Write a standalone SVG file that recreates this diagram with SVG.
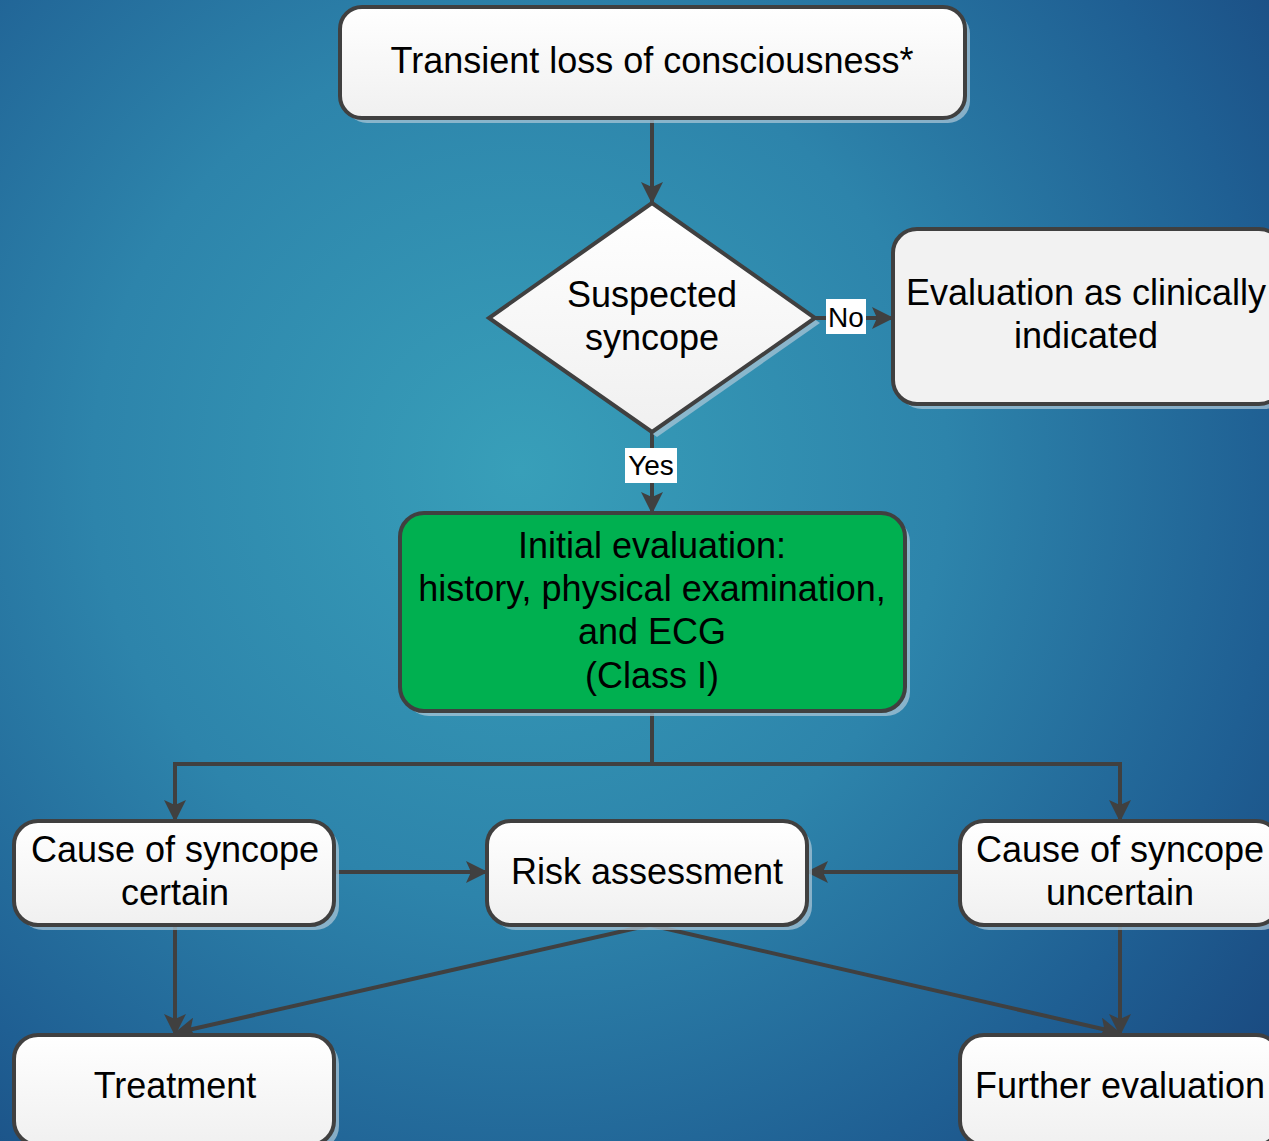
<svg xmlns="http://www.w3.org/2000/svg" width="1269" height="1141" viewBox="0 0 1269 1141">
<defs>
<radialGradient id="bg" cx="520" cy="470" r="950" gradientUnits="userSpaceOnUse">
<stop offset="0" stop-color="#389fb9"/>
<stop offset="0.45" stop-color="#2d84ab"/>
<stop offset="0.8" stop-color="#1f5f93"/>
<stop offset="1" stop-color="#1a4a80"/>
</radialGradient>
<linearGradient id="wf" x1="0" y1="0" x2="0" y2="1">
<stop offset="0" stop-color="#ffffff"/>
<stop offset="1" stop-color="#f0f0f0"/>
</linearGradient>
<marker id="ar" viewBox="0 0 22 22" markerWidth="22" markerHeight="22" refX="21" refY="11" orient="auto" markerUnits="userSpaceOnUse">
<path d="M0,0 L22,11 L0,22 L5,11 z" fill="#404040"/>
</marker>
</defs>
<style>
.node{stroke:#404040;stroke-width:4;fill:url(#wf)}
.green{stroke:#404040;stroke-width:4;fill:#00b050}
.shadow{fill:#a8c4d6;opacity:0.75}
.t{font-family:"Liberation Sans",Arial,sans-serif;font-size:36px;fill:#000;text-anchor:middle}
.lb{font-family:"Liberation Sans",Arial,sans-serif;font-size:28px;fill:#000;text-anchor:middle}
.c{stroke:#404040;stroke-width:4;fill:none}
.ca{stroke:#404040;stroke-width:4;fill:none;marker-end:url(#ar)}
</style>
<rect width="1269" height="1141" fill="url(#bg)"/>

<g id="connectors">
<line class="ca" x1="652" y1="118" x2="652" y2="203"/>
<line class="ca" x1="815" y1="318" x2="893" y2="318"/>
<line class="ca" x1="652" y1="432" x2="652" y2="513"/>
<polyline class="c" points="652,711 652,764"/>
<polyline class="ca" points="652,764 175,764 175,821"/>
<polyline class="ca" points="652,764 1120,764 1120,821"/>
<line class="ca" x1="334" y1="872" x2="487" y2="872"/>
<line class="ca" x1="960" y1="872" x2="807" y2="872"/>
<line class="ca" x1="175" y1="925" x2="175" y2="1035"/>
<line class="ca" x1="1120" y1="925" x2="1120" y2="1035"/>
<line class="ca" x1="650" y1="925" x2="175" y2="1033"/>
<line class="ca" x1="650" y1="925" x2="1120" y2="1033"/>
<rect x="826" y="299" width="40" height="35" fill="#fff"/>
<text class="lb" x="846" y="327">No</text>
<rect x="625" y="448" width="52" height="35" fill="#fff"/>
<text class="lb" x="651" y="475">Yes</text>
</g>

<g id="n-tloc">
<rect class="shadow" x="345" y="12" width="625" height="111" rx="22"/>
<rect class="node" x="340" y="7" width="625" height="111" rx="22"/>
<text class="t" x="652" y="73">Transient loss of consciousness*</text>
</g>

<g id="n-suspected">
<polygon class="shadow" points="657,208 820,323 657,437 494,323"/>
<polygon class="node" points="652,203 815,318 652,432 489,318"/>
<text class="t" x="652" y="307">Suspected</text>
<text class="t" x="652" y="350">syncope</text>
</g>

<g id="n-eval-clin">
<rect class="shadow" x="898" y="234" width="390" height="175" rx="24"/>
<rect class="node" x="893" y="229" width="390" height="175" rx="24" style="fill:#f2f2f2"/>
<text class="t" x="1086" y="305">Evaluation as clinically</text>
<text class="t" x="1086" y="348">indicated</text>
</g>

<g id="n-initial">
<rect class="shadow" x="405" y="518" width="505" height="198" rx="24"/>
<rect class="green" x="400" y="513" width="505" height="198" rx="24"/>
<text class="t" x="652" y="558">Initial evaluation:</text>
<text class="t" x="652" y="601">history, physical examination,</text>
<text class="t" x="652" y="644">and ECG</text>
<text class="t" x="652" y="688">(Class I)</text>
</g>

<g id="n-certain">
<rect class="shadow" x="19" y="826" width="320" height="104" rx="24"/>
<rect class="node" x="14" y="821" width="320" height="104" rx="24"/>
<text class="t" x="175" y="862">Cause of syncope</text>
<text class="t" x="175" y="905">certain</text>
</g>

<g id="n-risk">
<rect class="shadow" x="492" y="826" width="320" height="104" rx="24"/>
<rect class="node" x="487" y="821" width="320" height="104" rx="24"/>
<text class="t" x="647" y="884">Risk assessment</text>
</g>

<g id="n-uncertain">
<rect class="shadow" x="965" y="826" width="320" height="104" rx="24"/>
<rect class="node" x="960" y="821" width="320" height="104" rx="24"/>
<text class="t" x="1120" y="862">Cause of syncope</text>
<text class="t" x="1120" y="905">uncertain</text>
</g>

<g id="n-treatment">
<rect class="shadow" x="19" y="1040" width="320" height="110" rx="24"/>
<rect class="node" x="14" y="1035" width="320" height="110" rx="24"/>
<text class="t" x="175" y="1098">Treatment</text>
</g>

<g id="n-further">
<rect class="shadow" x="965" y="1040" width="320" height="110" rx="24"/>
<rect class="node" x="960" y="1035" width="320" height="110" rx="24"/>
<text class="t" x="1120" y="1098">Further evaluation</text>
</g>
</svg>
